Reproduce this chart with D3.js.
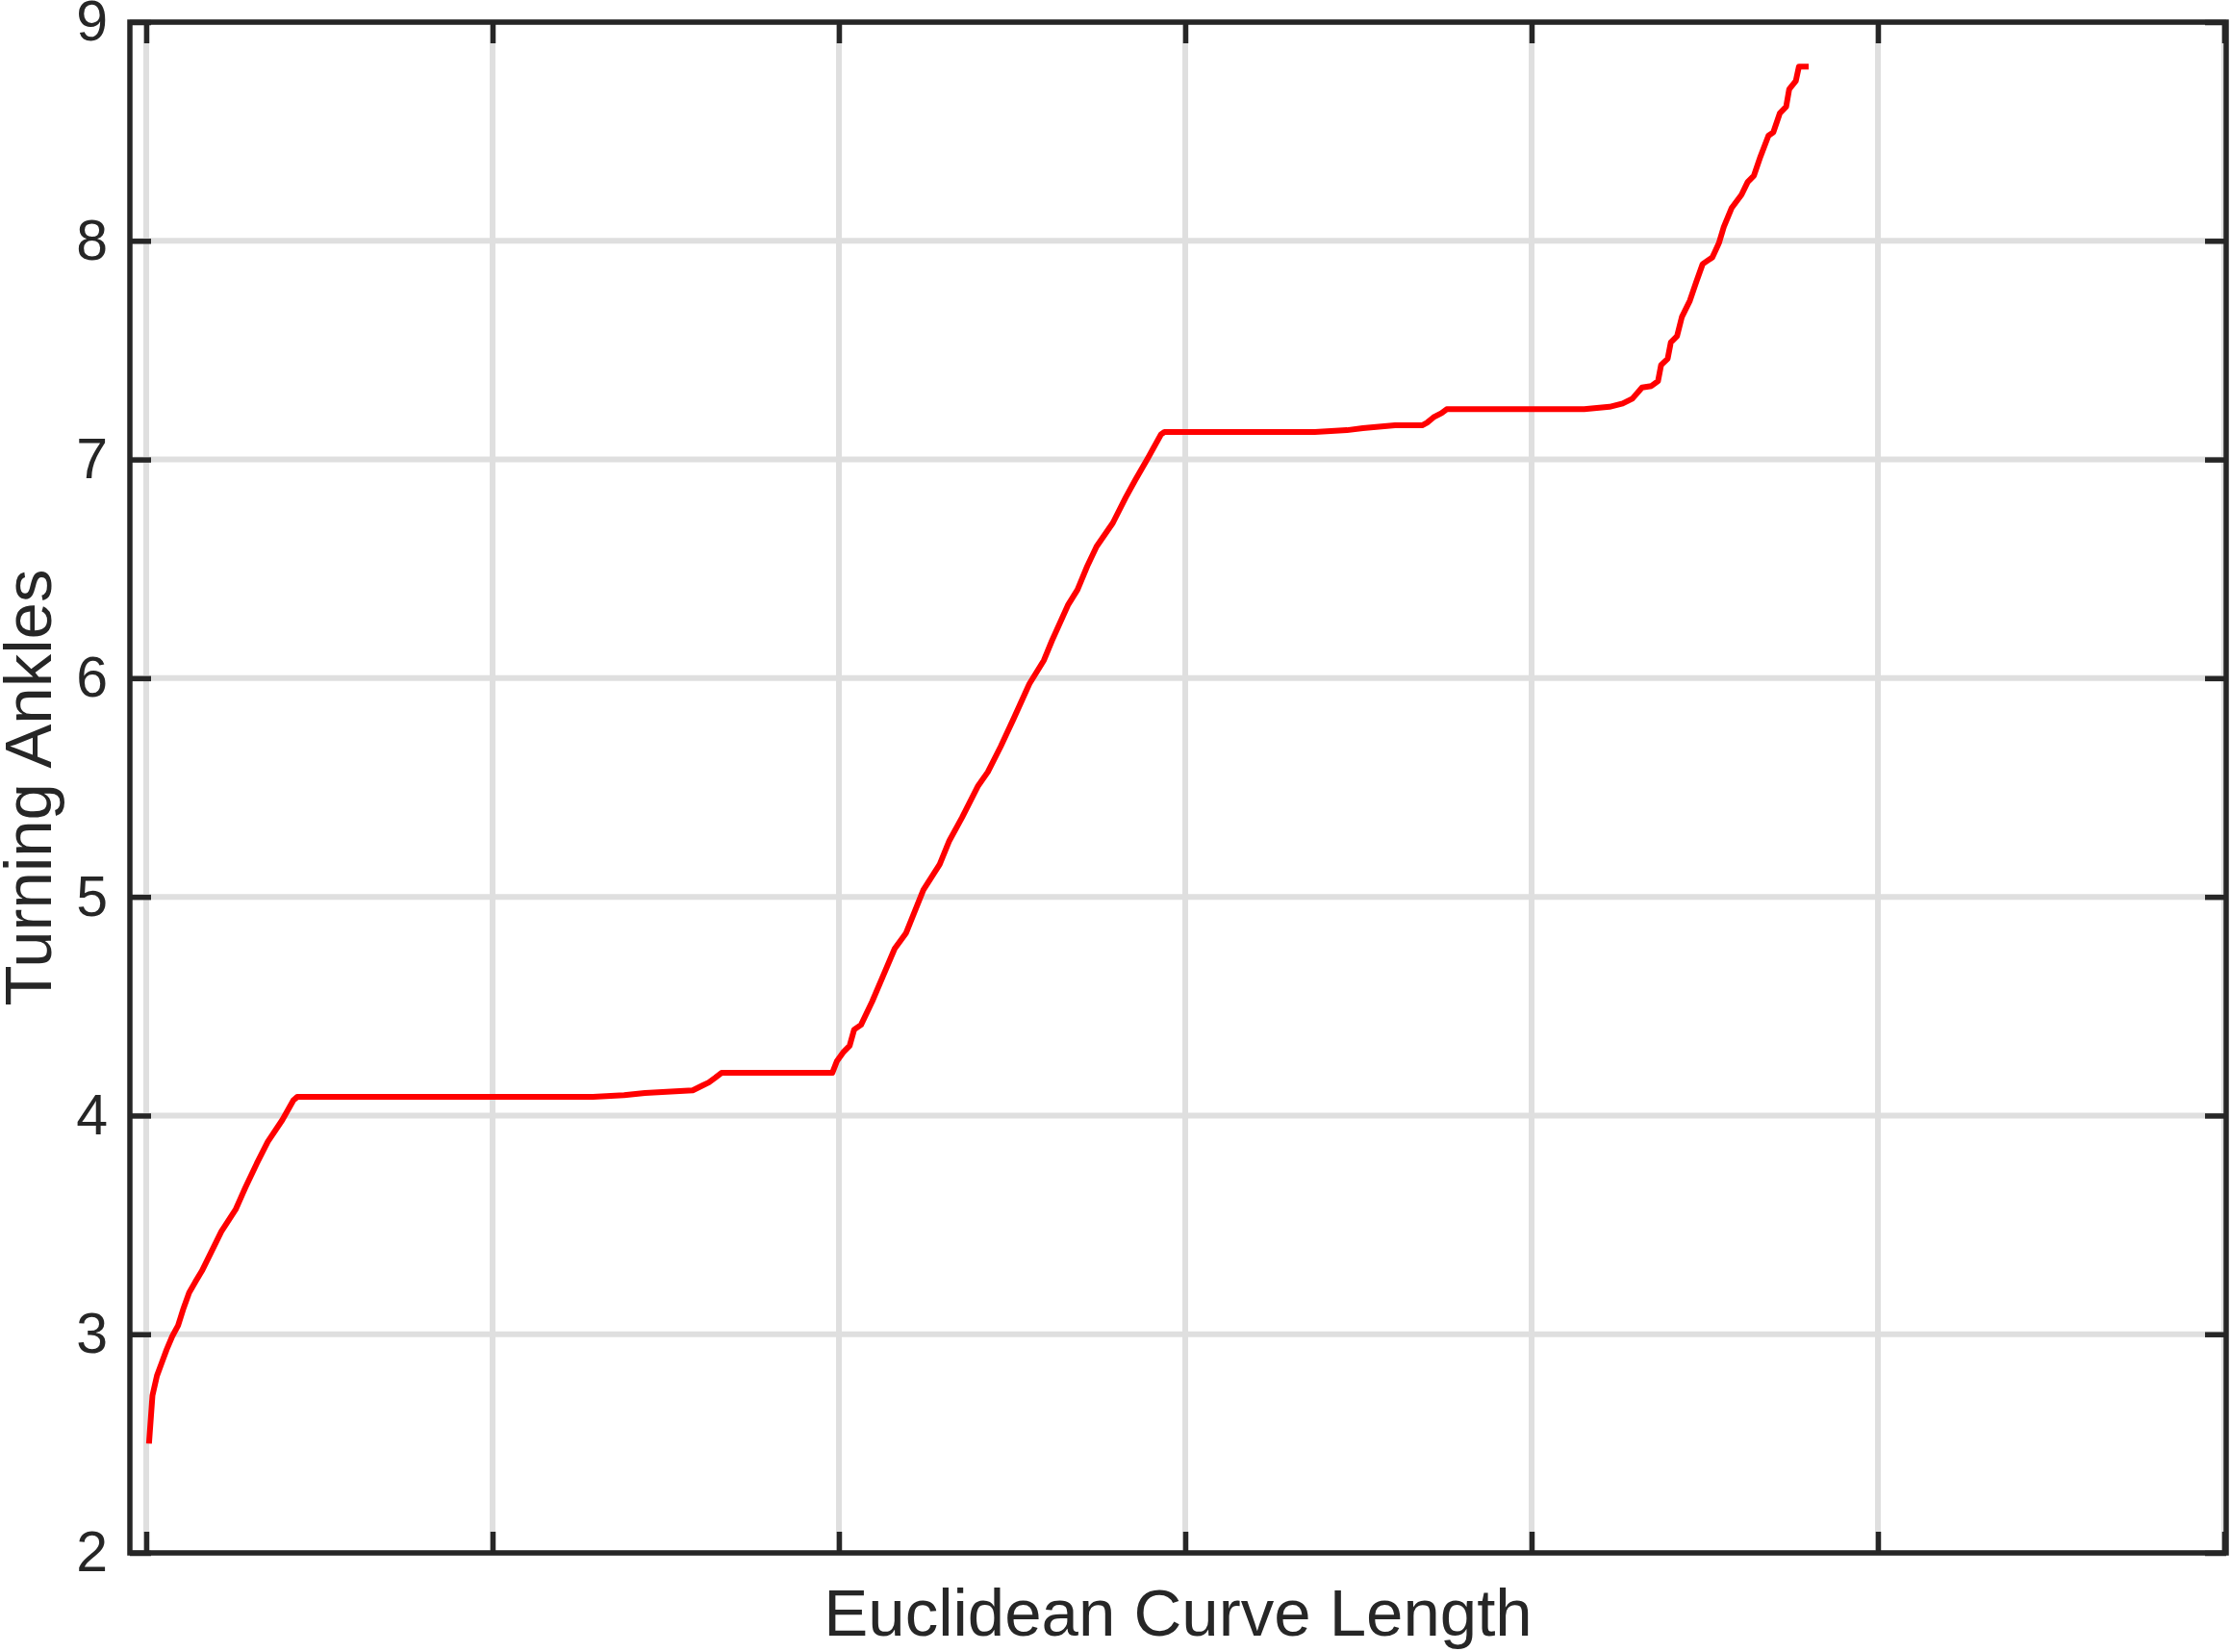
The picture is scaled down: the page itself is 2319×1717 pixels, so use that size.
<!DOCTYPE html>
<html>
<head>
<meta charset="utf-8">
<script src="https://cdn.jsdelivr.net/npm/d3@7"></script>
<style>
    body { margin: 0; background: #fff; }
    svg { display: block; }
</style>
</head>
<body>
<svg id="canvas" width="2319" height="1717"></svg>
<script>
        // values
        const curveLength = [
            0.008, 0.018, 0.031, 0.045, 0.059, 0.075, 0.092, 0.108, 0.124, 0.142, 0.161, 0.189, 0.217, 0.258,
            0.286, 0.319, 0.351, 0.393, 0.425, 0.436,
            1.290, 1.380, 1.440, 1.578, 1.606, 1.624, 1.643, 1.661,
            1.981, 1.994, 2.014, 2.031, 2.044, 2.064, 2.096, 2.161, 2.194, 2.244,
            2.291, 2.319, 2.356, 2.402, 2.430, 2.467, 2.504, 2.550, 2.592, 2.615,
            2.661, 2.689, 2.717, 2.744, 2.791, 2.828, 2.856, 2.892, 2.930, 2.940,
            3.374, 3.467, 3.513, 3.559, 3.606, 3.684, 3.698, 3.717, 3.740, 3.755,
            4.152, 4.225, 4.263, 4.291, 4.319, 4.346, 4.365, 4.374, 4.393, 4.402,
            4.420, 4.434, 4.457, 4.476, 4.494, 4.522, 4.541, 4.555, 4.578, 4.606,
            4.624, 4.642, 4.661, 4.684, 4.698, 4.717, 4.735, 4.744, 4.763, 4.772,
            4.800
        ];
        const turningAngle = [
            2.50, 2.72, 2.81, 2.87, 2.93, 2.99, 3.04, 3.12, 3.19, 3.24, 3.29, 3.38, 3.47, 3.57,
            3.67, 3.78, 3.88, 3.98, 4.07, 4.085,
            4.085, 4.093, 4.103, 4.115, 4.137, 4.151, 4.173, 4.195,
            4.195, 4.248, 4.292, 4.319, 4.393, 4.415, 4.521, 4.763, 4.835, 5.032,
            5.149, 5.257, 5.364, 5.508, 5.571, 5.687, 5.813, 5.974, 6.082, 6.171,
            6.333, 6.405, 6.512, 6.602, 6.710, 6.826, 6.907, 7.006, 7.115, 7.126,
            7.126, 7.134, 7.143, 7.150, 7.156, 7.156, 7.168, 7.193, 7.212, 7.230,
            7.230, 7.241, 7.256, 7.278, 7.329, 7.336, 7.358, 7.432, 7.461, 7.535,
            7.564, 7.652, 7.726, 7.814, 7.894, 7.924, 7.990, 8.063, 8.151, 8.210,
            8.269, 8.298, 8.386, 8.481, 8.496, 8.584, 8.613, 8.694, 8.731, 8.797,
            8.797
        ];
        const xTicks = [0, 1, 2, 3, 4, 5, 6];
        const yTicks = [2, 3, 4, 5, 6, 7, 8, 9];

        const svg = d3.select("#canvas");
        const plotLeft = 135, plotRight = 2314, plotTop = 23, plotBottom = 1614;
        const ink = "#262626";
        const font = "'Liberation Sans', Arial, Helvetica, sans-serif";

        const x = d3.scaleLinear().domain([-0.0472, 6.0056]).range([plotLeft, plotRight]);
        const y = d3.scaleLinear().domain([2, 9]).range([plotBottom, plotTop]);

        // grid
        const grid = svg.append("g").attr("stroke", "#dfdfdf").attr("stroke-width", 6);
        xTicks.forEach(t => {
            grid.append("line").attr("x1", x(t)).attr("x2", x(t)).attr("y1", plotTop).attr("y2", plotBottom);
        });
        yTicks.forEach(t => {
            grid.append("line").attr("x1", plotLeft).attr("x2", plotRight).attr("y1", y(t)).attr("y2", y(t));
        });

        // data line
        const pts = curveLength.map((c, i) => [c, turningAngle[i]]);
        svg.append("path")
            .datum(pts)
            .attr("fill", "none")
            .attr("stroke", "#ff0000")
            .attr("stroke-width", 6)
            .attr("stroke-linejoin", "round")
            .attr("d", d3.line().x(d => x(d[0])).y(d => y(d[1])));

        // ticks on all four sides, pointing inward
        function styleAxis(g) {
            g.select(".domain").remove();
            g.selectAll("line").attr("stroke", ink).attr("stroke-width", 5.5);
            g.selectAll("text").attr("fill", ink).style("font-family", font).style("font-size", "59px");
        }
        svg.append("g").attr("transform", `translate(0,${plotBottom})`)
            .call(d3.axisBottom(x).tickValues(xTicks).tickSize(-22).tickFormat(""))
            .call(styleAxis);
        svg.append("g").attr("transform", `translate(0,${plotTop})`)
            .call(d3.axisTop(x).tickValues(xTicks).tickSize(-22).tickFormat(""))
            .call(styleAxis);
        svg.append("g").attr("transform", `translate(${plotLeft},0)`)
            .call(d3.axisLeft(y).tickValues(yTicks).tickSize(-22).tickPadding(23).tickFormat(d3.format("d")))
            .call(styleAxis);
        svg.append("g").attr("transform", `translate(${plotRight},0)`)
            .call(d3.axisRight(y).tickValues(yTicks).tickSize(-22).tickFormat(""))
            .call(styleAxis);

        // box
        svg.append("rect")
            .attr("x", plotLeft).attr("y", plotTop)
            .attr("width", plotRight - plotLeft).attr("height", plotBottom - plotTop)
            .attr("fill", "none").attr("stroke", ink).attr("stroke-width", 5.5);

        // axis labels
        svg.append("text")
            .attr("x", (plotLeft + plotRight) / 2).attr("y", 1700)
            .attr("text-anchor", "middle")
            .attr("fill", ink)
            .style("font-family", font).style("font-size", "69px")
            .text("Euclidean Curve Length");

        svg.append("text")
            .attr("transform", `translate(53,${(plotTop + plotBottom) / 2}) rotate(-90)`)
            .attr("text-anchor", "middle")
            .attr("fill", ink)
            .style("font-family", font).style("font-size", "69px")
            .text("Turning Ankles");
</script>
</body>
</html>
